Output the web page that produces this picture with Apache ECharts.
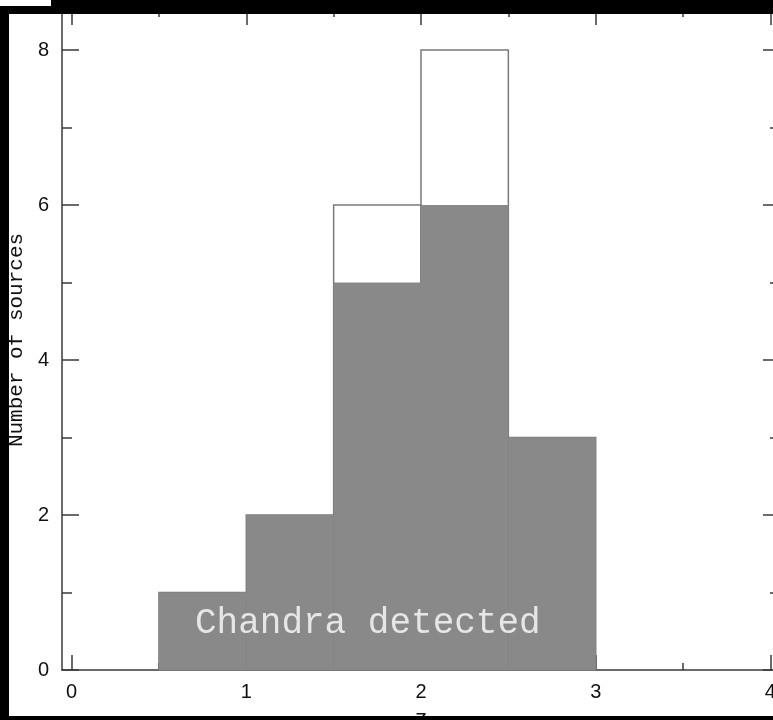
<!DOCTYPE html>
<html>
<head>
<meta charset="utf-8">
<script src="https://cdn.jsdelivr.net/npm/echarts@6/dist/echarts.min.js"></script>
<style>
  html, body { margin: 0; padding: 0; background: #fff; }
  #chart { width: 773px; height: 720px; }
</style>
</head>
<body>
<div id="chart"></div>
<script>
// histogram bins (redshift z)
const binStart = [0.5, 1.0, 1.5, 2.0, 2.5]
const binEnd = [1.0, 1.5, 2.0, 2.5, 3.0]
const detectedCounts = [1, 2, 5, 6, 3]
const totalCounts = [1, 2, 6, 8, 3]

const xMajor = [0, 1, 2, 3, 4]
const xMinor = [0.5, 1.5, 2.5, 3.5]
const yMajor = [0, 2, 4, 6, 8]
const yMinor = [1, 3, 5, 7]

const X_MIN = -0.055, X_MAX = 4.055
const Y_MIN = 0, Y_MAX = 8.516

const lineColor = '#3a3a3a'
const labelFont = { fontFamily: 'Liberation Sans', fontSize: 20, color: '#111' }

const chart = echarts.init(document.getElementById('chart'), null, { renderer: 'canvas' })

function xAxisDef(position, ticks, len, showLine, showLabel, name) {
  return {
    type: 'value', position, min: X_MIN, max: X_MAX,
    splitLine: { show: false },
    axisLine: { show: showLine, onZero: false, lineStyle: { color: lineColor, width: 1.5 } },
    axisTick: { show: true, inside: true, length: len, customValues: ticks,
      lineStyle: { color: lineColor, width: 1.5 } },
    axisLabel: { show: showLabel, customValues: ticks, margin: 12, ...labelFont },
    name: name || '', nameLocation: 'middle', nameGap: 38,
    nameTextStyle: { fontFamily: 'Liberation Mono', fontSize: 22, color: '#111', verticalAlign: 'top' },
  }
}

function yAxisDef(position, ticks, len, showLine, showLabel, name) {
  return {
    type: 'value', position, min: Y_MIN, max: Y_MAX,
    splitLine: { show: false },
    axisLine: { show: showLine, onZero: false, lineStyle: { color: lineColor, width: 1.5 } },
    axisTick: { show: true, inside: true, length: len, customValues: ticks,
      lineStyle: { color: lineColor, width: 1.5 } },
    axisLabel: { show: showLabel, customValues: ticks, margin: 13, ...labelFont },
    name: name || '', nameLocation: 'middle', nameGap: 29,
    nameTextStyle: { fontFamily: 'Liberation Mono', fontSize: 21, color: '#111' },
  }
}

const outlineData = binStart.map((s, i) => [s, binEnd[i], totalCounts[i]])
const filledData = binStart.map((s, i) => [s, binEnd[i], detectedCounts[i]])

function binRect(style) {
  return function (params, api) {
    const p0 = api.coord([api.value(0), api.value(2)])
    const p1 = api.coord([api.value(1), 0])
    return {
      type: 'rect',
      shape: { x: p0[0], y: p0[1], width: p1[0] - p0[0], height: p1[1] - p0[1] },
      style: style,
    }
  }
}

const option = {
  animation: false,
  backgroundColor: '#fff',
  grid: { left: 62, top: 10, width: 718, bottom: 50, containLabel: false, outerBoundsMode: 'none' },
  xAxis: [
    xAxisDef('bottom', xMajor, 15, true, true, 'z'),
    xAxisDef('bottom', xMinor, 7, false, false),
    xAxisDef('top', xMajor, 15, true, false),
    xAxisDef('top', xMinor, 7, false, false),
  ],
  yAxis: [
    yAxisDef('left', yMajor, 17, true, true, 'Number of sources'),
    yAxisDef('left', yMinor, 10, false, false),
    yAxisDef('right', yMajor, 17, true, false),
    yAxisDef('right', yMinor, 10, false, false),
  ],
  series: [
    {
      type: 'custom', name: 'all', xAxisIndex: 0, yAxisIndex: 0, z: 2,
      renderItem: binRect({ fill: 'none', stroke: '#7a7a7a', lineWidth: 1.5 }),
      data: outlineData,
    },
    {
      type: 'custom', name: 'Chandra detected', xAxisIndex: 0, yAxisIndex: 0, z: 3,
      renderItem: binRect({ fill: '#898989' }),
      data: filledData,
    },
  ],
  graphic: [
    { type: 'text', z: 50, left: 195, top: 605,
      style: { text: 'Chandra detected', fill: '#e6e6e6', font: '36px "Liberation Mono"' } },
    // black frame bands
    { type: 'rect', z: 100, shape: { x: 51, y: 0, width: 722, height: 14 }, style: { fill: '#000' } },
    { type: 'rect', z: 100, shape: { x: 0, y: 6, width: 51, height: 8 }, style: { fill: '#000' } },
    { type: 'rect', z: 100, shape: { x: 0, y: 6, width: 9, height: 714 }, style: { fill: '#000' } },
    { type: 'rect', z: 100, shape: { x: 0, y: 716, width: 773, height: 4 }, style: { fill: '#000' } },
  ],
}

chart.setOption(option)
</script>
</body>
</html>
